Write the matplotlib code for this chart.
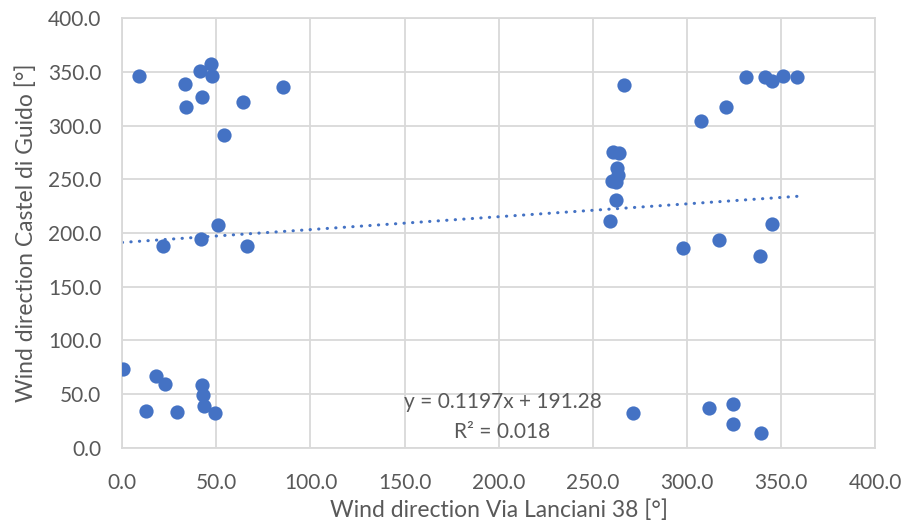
import numpy as np
import matplotlib.pyplot as plt

# wind direction pairs
via_lanciani = [8.9, 33.4, 41.2, 47.1, 47.8, 42.3, 34.0, 63.9, 85.6, 54.3,
                50.9, 21.8, 41.6, 66.2,
                0.5, 12.4, 17.7, 22.7, 29.2, 42.3, 42.8, 43.5, 49.0,
                266.7, 260.5, 263.7, 262.8, 263.5, 260.0, 262.6, 262.6, 259.3, 271.5,
                331.2, 341.3, 345.0, 351.0, 358.6, 320.6, 307.5, 298.0, 316.9, 345.2,
                339.0, 311.6, 324.5, 324.5, 339.5]
castel_di_guido = [346.2, 338.8, 350.9, 357.4, 346.2, 327.0, 317.7, 322.3, 336.3, 291.3,
                   207.5, 188.2, 194.7, 188.2,
                   73.7, 34.3, 66.9, 59.1, 33.3, 58.2, 48.9, 39.2, 32.1,
                   337.9, 275.5, 274.3, 260.6, 254.0, 248.7, 247.8, 230.5, 211.2, 32.1,
                   345.0, 345.0, 341.9, 346.2, 345.0, 317.4, 304.3, 185.8, 193.5, 208.7,
                   178.9, 37.1, 40.5, 22.4, 14.1]

slope = 0.1197
intercept = 191.28
r2 = 0.018

blue = '#4472C4'
grey = '#595959'
plt.rcParams['font.family'] = ['Lato', 'DejaVu Sans']

fig = plt.figure(figsize=(9.08, 5.30), dpi=100)
ax = fig.add_axes([0.1347, 0.155, 0.829, 0.8105])

ax.scatter(via_lanciani, castel_di_guido, s=105, color=blue, zorder=3, linewidths=0)

xt = np.array([0, max(via_lanciani)])
ax.plot(xt, slope * xt + intercept, color=blue, linestyle=(0, (0.1, 2.7)), linewidth=2.2,
        dash_capstyle='round', zorder=2)

ax.text(202, 43, 'y = %.4fx + %.2f' % (slope, intercept), ha='center', va='center',
        fontsize=15, color=grey)
ax.text(202, 15, 'R² = %.3f' % r2, ha='center', va='center', fontsize=15, color=grey)

ax.set_xlim(0, 400)
ax.set_ylim(0, 400)
ticks = np.arange(0, 401, 50)
ax.set_xticks(ticks)
ax.set_yticks(ticks)
ax.set_xticklabels(['%.1f' % t for t in ticks])
ax.set_yticklabels(['%.1f' % t for t in ticks])
ax.tick_params(length=0, labelsize=15, colors=grey)
ax.tick_params(axis='x', pad=18)
ax.tick_params(axis='y', pad=15)
ax.grid(True, color='#d9d9d9', linewidth=1.3)
ax.set_axisbelow(True)
for s in ax.spines.values():
    s.set_color('#d9d9d9')
    s.set_linewidth(1.3)

ax.set_xlabel('Wind direction Via Lanciani 38 [°]', fontsize=16.5, color=grey, labelpad=5)
ax.set_ylabel('Wind direction Castel di Guido [°]', fontsize=16.5, color=grey, labelpad=8)

fig.savefig('out.png', dpi=100)
